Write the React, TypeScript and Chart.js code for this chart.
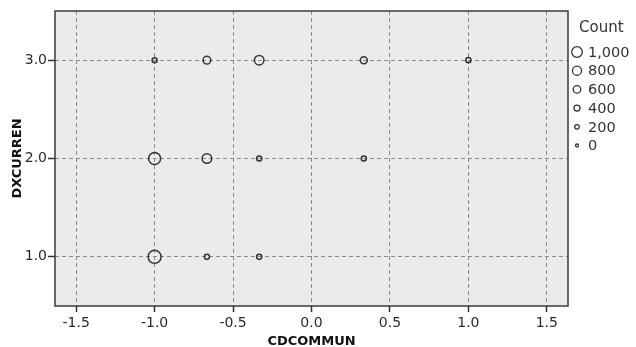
import React, { useEffect, useRef } from "react";
import { Chart, registerables } from "chart.js";

Chart.register(...registerables);

const cdcommun = [-1, -2 / 3, -1 / 3, 1 / 3, 1, -1, -2 / 3, -1 / 3, 1 / 3, -1, -2 / 3, -1 / 3];
const dxcurren = [3, 3, 3, 3, 3, 2, 2, 2, 2, 1, 1, 1];
const counts = [260, 625, 860, 530, 280, 1180, 860, 280, 280, 1320, 280, 280];

const xTicks = [-1.5, -1.0, -0.5, 0.0, 0.5, 1.0, 1.5];
const yTicks = [1.0, 2.0, 3.0];
const legendCounts = [1000, 800, 600, 400, 200, 0];
const legendLabels = ["1,000", "800", "600", "400", "200", "0"];

const FONT = "'DejaVu Sans', Verdana, sans-serif";

function sizeOf(c: number): number {
  return 1.5 + 0.0038 * c;
}

const framePlugin = {
  id: "frame",
  beforeDraw(chart: any) {
    const { ctx, chartArea: a } = chart;
    ctx.save();
    ctx.fillStyle = "#ebebeb";
    ctx.fillRect(a.left, a.top, a.right - a.left, a.bottom - a.top);
    ctx.restore();
  },
  afterDraw(chart: any) {
    const { ctx, chartArea: a } = chart;
    ctx.save();
    ctx.strokeStyle = "#3a3a3a";
    ctx.lineWidth = 1.5;
    ctx.strokeRect(a.left, a.top, a.right - a.left, a.bottom - a.top);
    // legend
    ctx.fillStyle = "#333";
    ctx.font = `15px ${FONT}`;
    ctx.textBaseline = "middle";
    ctx.textAlign = "left";
    ctx.fillText("Count", 579, 28);
    ctx.font = `14.5px ${FONT}`;
    legendCounts.forEach((c, i) => {
      const y = 52 + i * 18.7;
      const r = sizeOf(c);
      ctx.beginPath();
      ctx.arc(577, y, r, 0, Math.PI * 2);
      ctx.strokeStyle = "#333";
      ctx.lineWidth = 1.3;
      ctx.stroke();
      ctx.fillStyle = "#333";
      ctx.fillText(legendLabels[i], 588, y + 1);
    });
    ctx.restore();
  },
};

export default function App() {
  const ref = useRef<HTMLCanvasElement | null>(null);
  useEffect(() => {
    if (!ref.current) return;
    const points = cdcommun.map((x, i) => ({ x, y: dxcurren[i], count: counts[i] }));
    const chart = new Chart(ref.current, {
      type: "scatter",
      data: {
        datasets: [
          {
            data: points as any,
            pointRadius: (ctx: any) => sizeOf(ctx.raw ? ctx.raw.count : 0),
            pointBorderColor: "#333",
            pointBackgroundColor: "rgba(0,0,0,0)",
            pointBorderWidth: 1.5,
          },
        ],
      },
      options: {
        animation: false,
        responsive: true,
        maintainAspectRatio: false,
        layout: { padding: { left: 0, top: 11, right: 68, bottom: 0 } },
        plugins: { legend: { display: false }, tooltip: { enabled: false } },
        scales: {
          x: {
            type: "linear",
            min: -1.635,
            max: 1.635,
            afterBuildTicks: (s: any) => {
              s.ticks = xTicks.map((v) => ({ value: v }));
            },
            afterFit: (s: any) => {
              s.height = 41;
            },
            ticks: {
              color: "#2a2a2a",
              font: { family: FONT, size: 14 },
              padding: 3,
              callback: (v: any) => Number(v).toFixed(1),
            },
            grid: {
              color: "#8a8a8a",
              lineWidth: 1,
              tickLength: 6,
              tickColor: "#333",
              tickWidth: 1.5,
            },
            border: { display: false, dash: [4, 3] },
            title: {
              display: true,
              text: "CDCOMMUN",
              color: "#111",
              font: { family: FONT, size: 13, weight: "bold", lineHeight: 1 },
              padding: { top: 0, bottom: -1 },
            },
          },
          y: {
            type: "linear",
            min: 0.5,
            max: 3.5,
            afterBuildTicks: (s: any) => {
              s.ticks = yTicks.map((v) => ({ value: v }));
            },
            afterFit: (s: any) => {
              s.width = 55;
            },
            ticks: {
              color: "#2a2a2a",
              font: { family: FONT, size: 14 },
              padding: 1,
              callback: (v: any) => Number(v).toFixed(1),
            },
            grid: {
              color: "#8a8a8a",
              lineWidth: 1,
              tickLength: 7,
              tickColor: "#333",
              tickWidth: 1.5,
            },
            border: { display: false, dash: [4, 3] },
            title: {
              display: true,
              text: "DXCURREN",
              color: "#111",
              font: { family: FONT, size: 13, weight: "bold" },
              padding: { top: 10, bottom: 0 },
            },
          },
        },
      },
      plugins: [framePlugin],
    });
    return () => chart.destroy();
  }, []);
  return (
    <div style={{ position: "fixed", left: 0, top: 0, width: 636, height: 347, background: "#fff" }}>
      <canvas ref={ref} />
    </div>
  );
}
